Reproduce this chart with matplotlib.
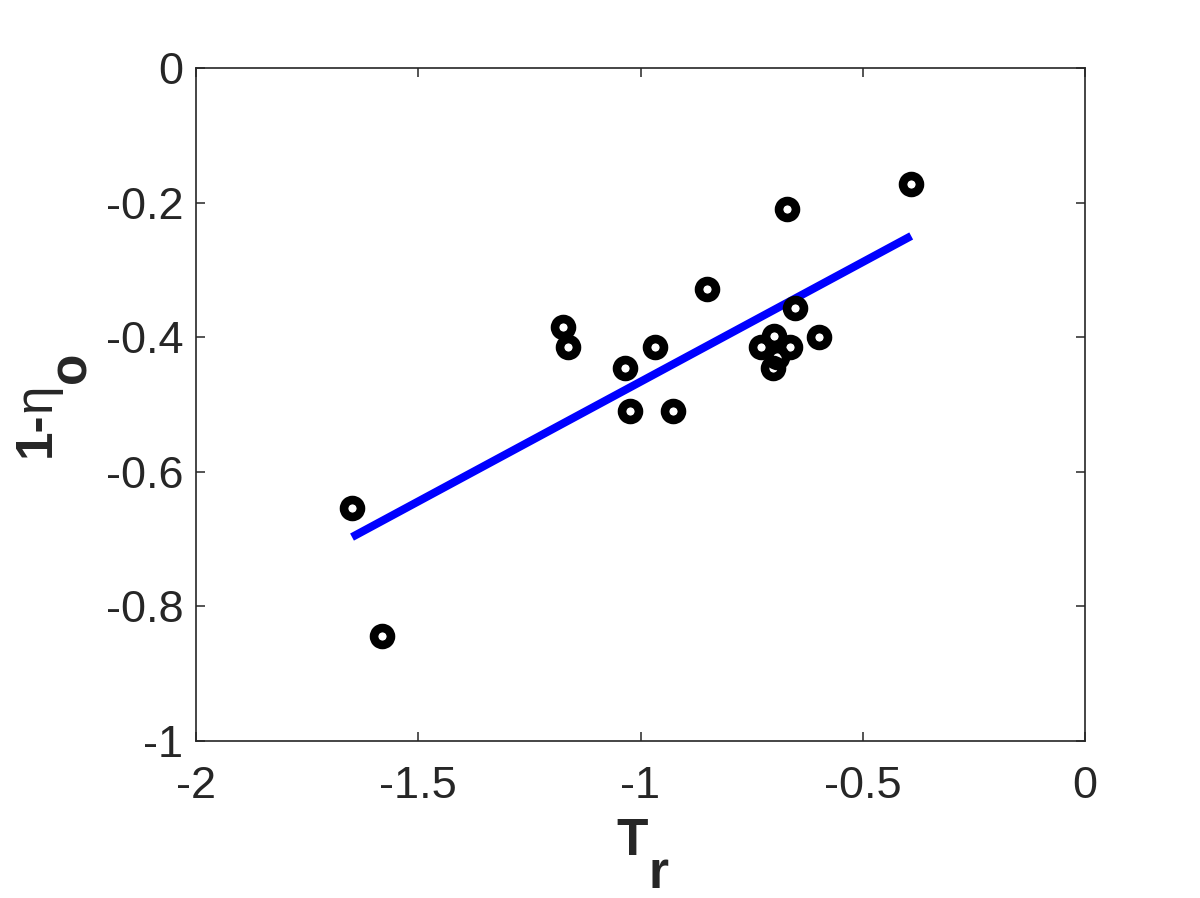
import matplotlib
matplotlib.use("Agg")
import matplotlib.pyplot as plt
import numpy as np

# Data
tr = [-0.391, -0.670, -0.652, -0.598, -0.664, -0.700, -0.729, -0.693, -0.701,
      -0.850, -0.967, -1.035, -1.024, -0.927, -1.174, -1.163, -1.649, -1.582]
eta = [-0.173, -0.2095, -0.357, -0.400, -0.4146, -0.398, -0.4146, -0.429, -0.446,
       -0.328, -0.4146, -0.446, -0.5097, -0.5097, -0.385, -0.4146, -0.654, -0.844]
fit_x = [-1.649, -0.391]
fit_y = [-0.697, -0.2496]
xticks = [-2, -1.5, -1, -0.5, 0]
xticklabels = ['-2', '-1.5', '-1', '-0.5', '0']
yticks = [-1, -0.8, -0.6, -0.4, -0.2, 0]
yticklabels = ['-1', '-0.8', '-0.6', '-0.4', '-0.2', '0']

W, H = 1200, 898
DPI = 100
fig = plt.figure(figsize=(W / DPI, H / DPI), dpi=DPI)
ax = fig.add_axes([196 / W, 1 - 741 / H, (1085 - 196) / W, (741 - 68) / H])

dark = '#262626'
FONT = 'Liberation Sans'

ax.plot(fit_x, fit_y, color='#0000ff', lw=5.8, solid_capstyle='butt', zorder=2)
ax.plot(tr, eta, linestyle='none', marker='o', markersize=12.2,
        markerfacecolor='none', markeredgecolor='black', markeredgewidth=6.2, zorder=3)

ax.set_xlim(-2, 0)
ax.set_ylim(-1, 0)
ax.set_xticks(xticks)
ax.set_xticklabels(xticklabels)
ax.set_yticks(yticks)
ax.set_yticklabels(yticklabels)
for s in ax.spines.values():
    s.set_linewidth(1.2)
    s.set_color(dark)
ax.tick_params(direction='in', length=6.5, width=1.1, color=dark,
               top=True, right=True, labelsize=32.5, labelcolor=dark)
ax.tick_params(axis='x', pad=18)
ax.tick_params(axis='y', pad=9)
for lbl in ax.get_xticklabels() + ax.get_yticklabels():
    lbl.set_fontfamily(FONT)

# Axis labels built from pieces (MATLAB-style subscripts)
def px(x, y):
    return (x / W, 1 - y / H)

fig.text(*px(632, 855), 'T', fontsize=37, fontweight='bold', family=FONT,
         color=dark, ha='center', va='baseline')
fig.text(*px(648, 888), 'r', fontsize=37, fontweight='bold', family=FONT,
         color=dark, ha='left', va='baseline')

fig.canvas.draw()
renderer = fig.canvas.get_renderer()

# y label: rotated 90, reading bottom to top
base_x = 50
start_y = 457
t1 = fig.text(*px(base_x, start_y), '1-', fontsize=37, fontweight='bold', family=FONT,
              color=dark, rotation=90, rotation_mode='anchor', ha='left', va='baseline')
bb = t1.get_window_extent(renderer)
y_next = start_y - bb.height
t2 = fig.text(*px(base_x, y_next), 'η', fontsize=37, fontweight='normal', family=FONT,
              color=dark, rotation=90, rotation_mode='anchor', ha='left', va='baseline')
bb2 = t2.get_window_extent(renderer)
y_next2 = y_next - bb2.height
fig.text(*px(base_x + 36, y_next2), 'o', fontsize=37, fontweight='bold', family=FONT,
         color=dark, rotation=90, rotation_mode='anchor', ha='left', va='baseline')

fig.savefig('out.png', dpi=DPI, facecolor='white')
